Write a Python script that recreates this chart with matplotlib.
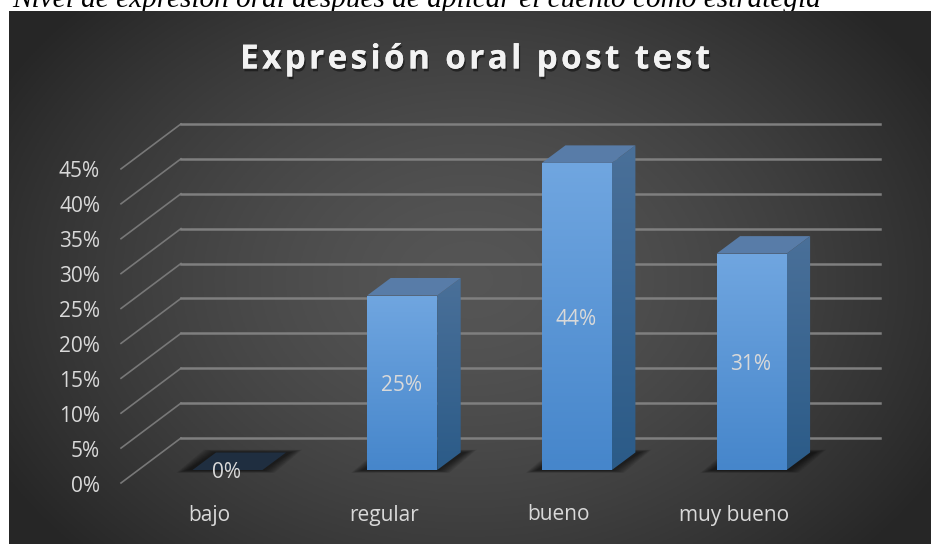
import numpy as np
import matplotlib
matplotlib.use('Agg')
import matplotlib.pyplot as plt
import matplotlib.patheffects as pe
from matplotlib.patches import Polygon

caption = 'Nivel de expresión oral después de aplicar el cuento como estrategia'
title = 'Expresión oral post test'
categories = ['bajo', 'regular', 'bueno', 'muy bueno']
values = [0, 25, 44, 31]
ticks = [0, 5, 10, 15, 20, 25, 30, 35, 40, 45]

# pixel layout: x unit = one category, y unit = one percent
W, H = 931, 544
X0, XU = 227.5, 174.7
Y0, YU = 470, 6.98


def px(p):
    return (p - X0) / XU


def py(p):
    return (Y0 - p) / YU


dep_x = 23.5 / XU
dep_y = 17.5 / YU
half = 35 / XU
txt_shift = 3 / YU

fig = plt.figure(figsize=(W / 100, H / 100), dpi=100, facecolor='white')
ax = fig.add_axes([0, 0, 1, 1])
ax.axis('off')

# chart background, radial
xx, yy = np.meshgrid(np.linspace(9, W, 461), np.linspace(11, H, 267))
r = np.sqrt(((xx - 470) / 540) ** 2 + ((yy - 280) / 400) ** 2)
r = np.clip(r, 0, 1)
shade = 0.335 - 0.185 * r ** 1.5
rgb = np.dstack([shade, shade, shade])
ax.imshow(rgb, extent=[px(9), px(W), py(H), py(11)], aspect='auto', origin='upper', zorder=0)


def vgrad(poly, top, bottom, z):
    # vertical gradient clipped to a polygon
    poly = np.array(poly)
    t = np.linspace(0, 1, 128)[:, None, None]
    img = (1 - t) * np.array(top)[None, None, :] + t * np.array(bottom)[None, None, :]
    im = ax.imshow(img, extent=[poly[:, 0].min(), poly[:, 0].max(), poly[:, 1].min(), poly[:, 1].max()],
                   aspect='auto', origin='upper', zorder=z)
    clip = Polygon(poly, closed=True, transform=ax.transData, fc='none', ec='none')
    ax.add_patch(clip)
    im.set_clip_path(clip)


def c(h):
    return matplotlib.colors.to_rgb(h)


# gridlines
front = -13 / YU
for t in ticks:
    ax.plot([px(121), px(181)], [t + front, t + front + 45 / YU], color='#787878', lw=1.2, zorder=1)
    ax.plot([px(181), px(880)], [t + front + 45 / YU, t + front + 45 / YU], color='#7f7f7f', lw=1.8, zorder=1)
    ax.text(px(100), t + front - txt_shift, f'{t}%', color='#d9d9d9', fontsize=15, family='Open Sans',
            ha='right', va='center', zorder=5)

# bars
for i, (name, v) in enumerate(zip(categories, values)):
    l, r_ = i - half, i + half
    # floor shadow
    for k in range(8):
        g = (8 - k) * 1.5 / XU
        gy = (8 - k) * 0.35 / YU
        ax.add_patch(Polygon([(l - g - 4 / XU, -gy), (r_ + g, -gy), (r_ + dep_x + g + 4 / XU, dep_y + gy),
                              (l + dep_x - g, dep_y + gy)],
                             closed=True, fc='black', ec='none', alpha=0.09, zorder=2))
    if v == 0:
        ax.add_patch(Polygon([(l, 0), (r_, 0), (r_ + dep_x, dep_y), (l + dep_x, dep_y)],
                             closed=True, fc='#1f2e40', ec='none', zorder=3))
    else:
        vgrad([(r_, 0), (r_ + dep_x, dep_y), (r_ + dep_x, v + dep_y), (r_, v)], c('#4a7099'), c('#2b5b88'), 3)
        ax.add_patch(Polygon([(l, v), (r_, v), (r_ + dep_x, v + dep_y), (l + dep_x, v + dep_y)],
                             closed=True, fc='#587ca8', ec='none', zorder=3))
        vgrad([(l, 0), (r_, 0), (r_, v), (l, v)], c('#70a6e0'), c('#4686cb'), 4)
    ax.text(i - 0.005, (v / 2 if v else 0) - txt_shift, f'{v}%', color='#d9d9d9', fontsize=15, family='Open Sans',
            ha='center', va='center', zorder=6)
    ax.text(i - 18 / XU, py(515), name, color='#d9d9d9', fontsize=15, family='Open Sans',
            ha='center', va='center', zorder=5)

spaced = '\u200a'.join(title)
ax.text(px(475.5), py(60), spaced, color='#f2f2f2', fontsize=24, fontweight='bold',
        family=['Open Sans', 'DejaVu Sans'], ha='center', va='center', zorder=6,
        path_effects=[pe.withSimplePatchShadow(offset=(1, -2), shadow_rgbFace='black', alpha=0.45), pe.Normal()])

# sits under the chart background, which cuts its descenders
ax.text(px(12), py(7), caption, color='black', fontsize=21.1, style='italic', family='Liberation Serif',
        ha='left', va='baseline', zorder=-1)

ax.set_xlim(px(0), px(W))
ax.set_ylim(py(H), py(0))
fig.savefig('out.png', dpi=100)
